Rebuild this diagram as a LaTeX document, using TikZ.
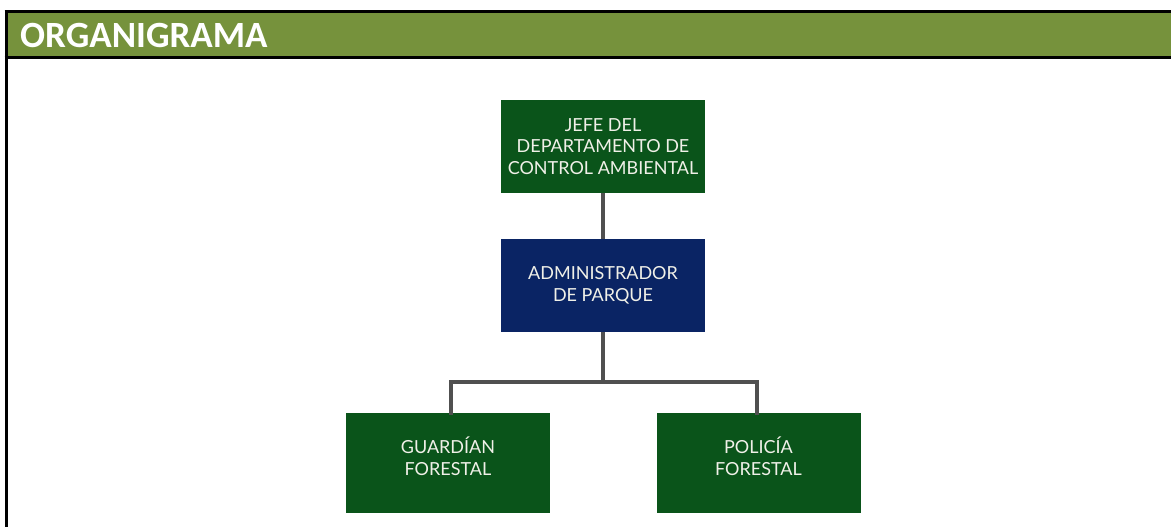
\documentclass[tikz,border=0pt]{standalone}
\usepackage{fontspec}
\setmainfont{Lato}
\newfontfamily\titlefont{Carlito}
\definecolor{hdrgreen}{RGB}{118,146,60}
\definecolor{boxgreen}{RGB}{10,84,26}
\definecolor{boxnavy}{RGB}{10,36,100}
\definecolor{linkgray}{RGB}{80,80,80}
\definecolor{boxtext}{RGB}{240,240,232}
\tikzset{
  orgbox/.style={minimum width=204pt, minimum height=93pt, inner sep=0pt,
    text=boxtext, align=center, font=\fontsize{18}{21.5}\selectfont},
  greenbox/.style={orgbox, fill=boxgreen},
  navybox/.style={orgbox, fill=boxnavy},
  link/.style={draw=linkgray, line width=4pt}
}
\begin{document}
\begin{tikzpicture}[x=1pt,y=-1pt]
\useasboundingbox (0,0) rectangle (1171,527);
% header
\fill[hdrgreen] (6,12) rectangle (1171,58);
\draw[line width=3pt] (4.5,12) -- (1171,12);
\draw[line width=3pt] (4.5,58) -- (1171,58);
\draw[line width=3pt] (6,10.5) -- (6,527);
\node[anchor=base west, text=white, font=\titlefont\bfseries\fontsize{37}{42}\selectfont, inner sep=0pt] (title) at (20,48) {ORGANIGRAMA};
% boxes
\node[greenbox] (jefe) at (603,146.5) {JEFE DEL\\DEPARTAMENTO DE\\CONTROL AMBIENTAL};
\node[navybox] (admin) at (603,285.5) {ADMINISTRADOR\\DE PARQUE};
\node[greenbox, minimum height=100pt] (guard) at (448,463) {GUARDÍAN\\FORESTAL\\[-8pt]};
\node[greenbox, minimum height=100pt] (poli) at (758.5,463) {POLICÍA\\FORESTAL\\[-8pt]};
% connectors
\coordinate (split) at (603,382);
\draw[link] (jefe.south) -- (admin.north);
\draw[link] (admin.south) -- (split);
\draw[link, line cap=rect] (guard.north -| 451,0) |- (split) -| (poli.north -| 757,0);
\end{tikzpicture}
\end{document}
